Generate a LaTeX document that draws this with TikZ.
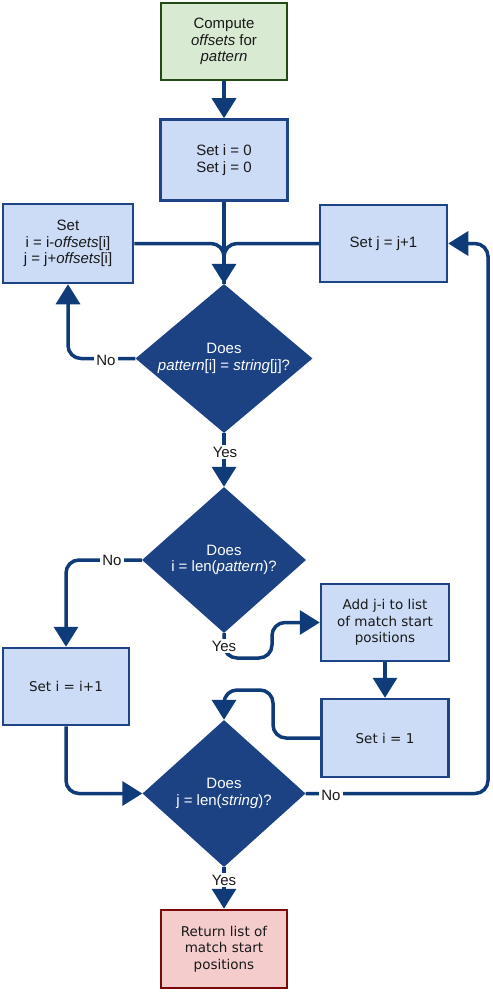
\documentclass[tikz,border=0pt]{standalone}
\usepackage{fontspec}
\setmainfont{Liberation Sans}
\newfontfamily\verd{DejaVu Sans}
\usetikzlibrary{arrows.meta,shapes.geometric}
\definecolor{boxfill}{HTML}{CCDCF6}
\definecolor{boxline}{HTML}{1F4485}
\definecolor{dia}{HTML}{1C4284}
\definecolor{conn}{HTML}{0F3B78}
\definecolor{gfill}{HTML}{D9EAD3}
\definecolor{gline}{HTML}{224A17}
\definecolor{rfill}{HTML}{F4CCCC}
\definecolor{rline}{HTML}{7A0A0A}
\begin{document}
\begin{tikzpicture}[x=1pt,y=-1pt,
  every node/.style={font=\fontsize{15}{16.5}\selectfont, align=center, inner sep=0pt},
  procbox/.style={rectangle, draw=boxline, fill=boxfill, line width=2.5pt, text=black!90},
  startbox/.style={procbox, draw=gline, fill=gfill},
  endbox/.style={procbox, draw=rline, fill=rfill},
  decision/.style={diamond, fill=dia, inner sep=0pt},
  dtext/.style={text=white},
  conn/.style={draw=conn, line width=3.5pt, rounded corners=13pt},
  arr/.style={conn, -{Triangle[width=24pt,length=20pt]}},
  lbl/.style={fill=white, inner sep=2pt, text=black!90},
  vfont/.style={font=\verd\fontsize{13.5}{16.5}\selectfont}
]
\useasboundingbox (0,0) rectangle (492,992);

% nodes
\node[startbox, minimum width=126pt, minimum height=77pt] (comp) at (224,41.5)
  {Compute\\\textit{offsets} for\\\textit{pattern}};
\node[procbox, minimum width=127pt, minimum height=81pt] (set0) at (224,160)
  {Set i = 0\\Set j = 0};
\node[procbox, minimum width=130pt, minimum height=79pt] (setoff) at (68,243.5)
  {Set\\i = i-\textit{offsets}[i]\\j = j+\textit{offsets}[i]};
\node[procbox, minimum width=127pt, minimum height=77pt] (setj) at (383.5,243.5)
  {Set j = j+1};
\node[decision, minimum width=177pt, minimum height=149pt] (d1) at (224,358.5) {};
\node[dtext] (d1t) at (d1.center) {Does\\\textit{pattern}[i] = \textit{string}[j]?};
\node[decision, minimum width=164pt, minimum height=146pt] (d2) at (224,560) {};
\node[dtext] (d2t) at (d2.center) {Does\\i = len(\textit{pattern})?};
\node[procbox, vfont, minimum width=126pt, minimum height=77pt] (seti) at (66,686.5)
  {Set i = i+1};
\node[procbox, vfont, minimum width=128pt, minimum height=77pt] (add) at (385,622.5)
  {Add j-i to list\\of match start\\positions};
\node[procbox, vfont, minimum width=127pt, minimum height=78pt] (setone) at (385,738)
  {Set i = 1};
\node[decision, minimum width=163pt, minimum height=147pt] (d3) at (224,793.5) {};
\node[dtext] (d3t) at (d3.center) {Does\\j = len(\textit{string})?};
\node[endbox, vfont, minimum width=126pt, minimum height=78pt] (ret) at (224,949)
  {Return list of\\match start\\positions};

% helper coordinates
\coordinate (yesbend) at (224,658);
\coordinate (yesup) at (272,658);
\coordinate (loopr) at (273,690);
\coordinate (loopl) at (224,690);
\coordinate (rr) at (488,243.5);

% connectors
\draw[arr] (comp.south) -- (set0.north);
\draw[arr] (set0.south) -- (d1.north);
\draw[conn] (setoff.east) -| (d1.north);
\draw[conn] (setj.west) -| (d1.north);
\draw[arr] (d1.west) -| (setoff.south);
\draw[arr] (d1.south) -- (d2.north);
\draw[arr] (d2.west) -| (seti.north);
\draw[arr] (d2.south) -- (yesbend) -- (yesup) |- (add.west);
\draw[arr] (add.south) -- (setone.north);
\draw[arr] (setone.west) -| (loopr) -- (loopl) -- (d3.north);
\draw[arr] (seti.south) |- (d3.west);
\draw[arr] (d3.east) -| (rr) -- (setj.east);
\draw[arr] (d3.south) -- (ret.north);

% labels
\node[lbl] (no1) at (106,360) {No};
\node[lbl] (yes1) at (225,452) {Yes};
\node[lbl] (no2) at (112,560) {No};
\node[lbl] (yes2) at (224,646) {Yes};
\node[lbl] (no3) at (331,795) {No};
\node[lbl] (yes3) at (224,880) {Yes};
\end{tikzpicture}
\end{document}
